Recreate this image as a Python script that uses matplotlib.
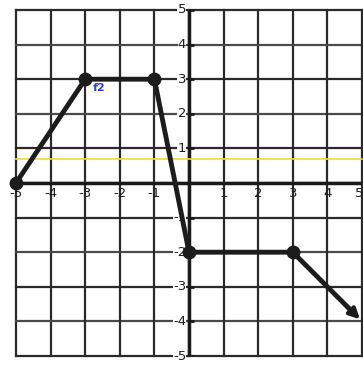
import numpy as np
import matplotlib.pyplot as plt

# piecewise function points
xs = [-5, -3, -1, 0, 3, 5]
ys = [0, 3, 3, -2, -2, -4]
dot_x = [-5, -3, -1, 0, 3]
dot_y = [0, 3, 3, -2, -2]
ticks = [-5, -4, -3, -2, -1, 1, 2, 3, 4, 5]

fig = plt.figure(figsize=(3.63, 3.66), dpi=100)
ax = fig.add_axes([16/363, 10/366, 346/363, 346/366])
ax.set_xlim(-5, 5)
ax.set_ylim(-5, 5)
ax.axis("off")

# grid
for v in range(-5, 6):
    ax.axvline(v, color="#2a2a2a", lw=1.6, zorder=1, clip_on=False)
    ax.axhline(v, color="#4a4a4a" if v % 2 == 0 else "#2a2a2a", lw=1.6, zorder=1, clip_on=False)

# axes
ax.axhline(0, color="#1a1a1a", lw=2.5, zorder=2)
ax.axvline(0, color="#1a1a1a", lw=2.5, zorder=2)
ax.hlines(ticks, 0, 0.15, color="#1a1a1a", lw=2, zorder=2)

# tick labels
for t in ticks:
    xt = 4.92 if t == 5 else t
    ax.text(xt, -0.12, str(t), ha="center", va="top", fontsize=9.5, color="#1e1e1e", zorder=3)
    ax.text(-0.08, t, str(t), ha="right", va="center", fontsize=9.5, color="#1e1e1e", zorder=3,
            bbox=dict(facecolor="white", edgecolor="none", pad=0.2))

# yellow scan line
ax.axhline(0.68, color="#eedc3c", lw=1.2, zorder=4, clip_on=False)

# function graph
ax.plot(xs[:-1] + [4.8], ys[:-1] + [-3.8], color="#1c1c1c", lw=3.5, zorder=5,
        solid_capstyle="round", clip_on=False)
ax.annotate("", xy=(xs[-1], ys[-1]), xytext=(4.5, -3.5),
            arrowprops=dict(arrowstyle="-|>,head_length=0.6,head_width=0.3",
                            color="#1c1c1c", lw=3), zorder=6, annotation_clip=False)
ax.plot(dot_x, dot_y, "o", color="#1c1c1c", ms=9, zorder=6, clip_on=False)

ax.text(-2.6, 2.75, "f2", color="#3a3ad0", fontsize=8, fontweight="bold",
        ha="center", va="center", zorder=7)

fig.savefig("out.png", dpi=100)
